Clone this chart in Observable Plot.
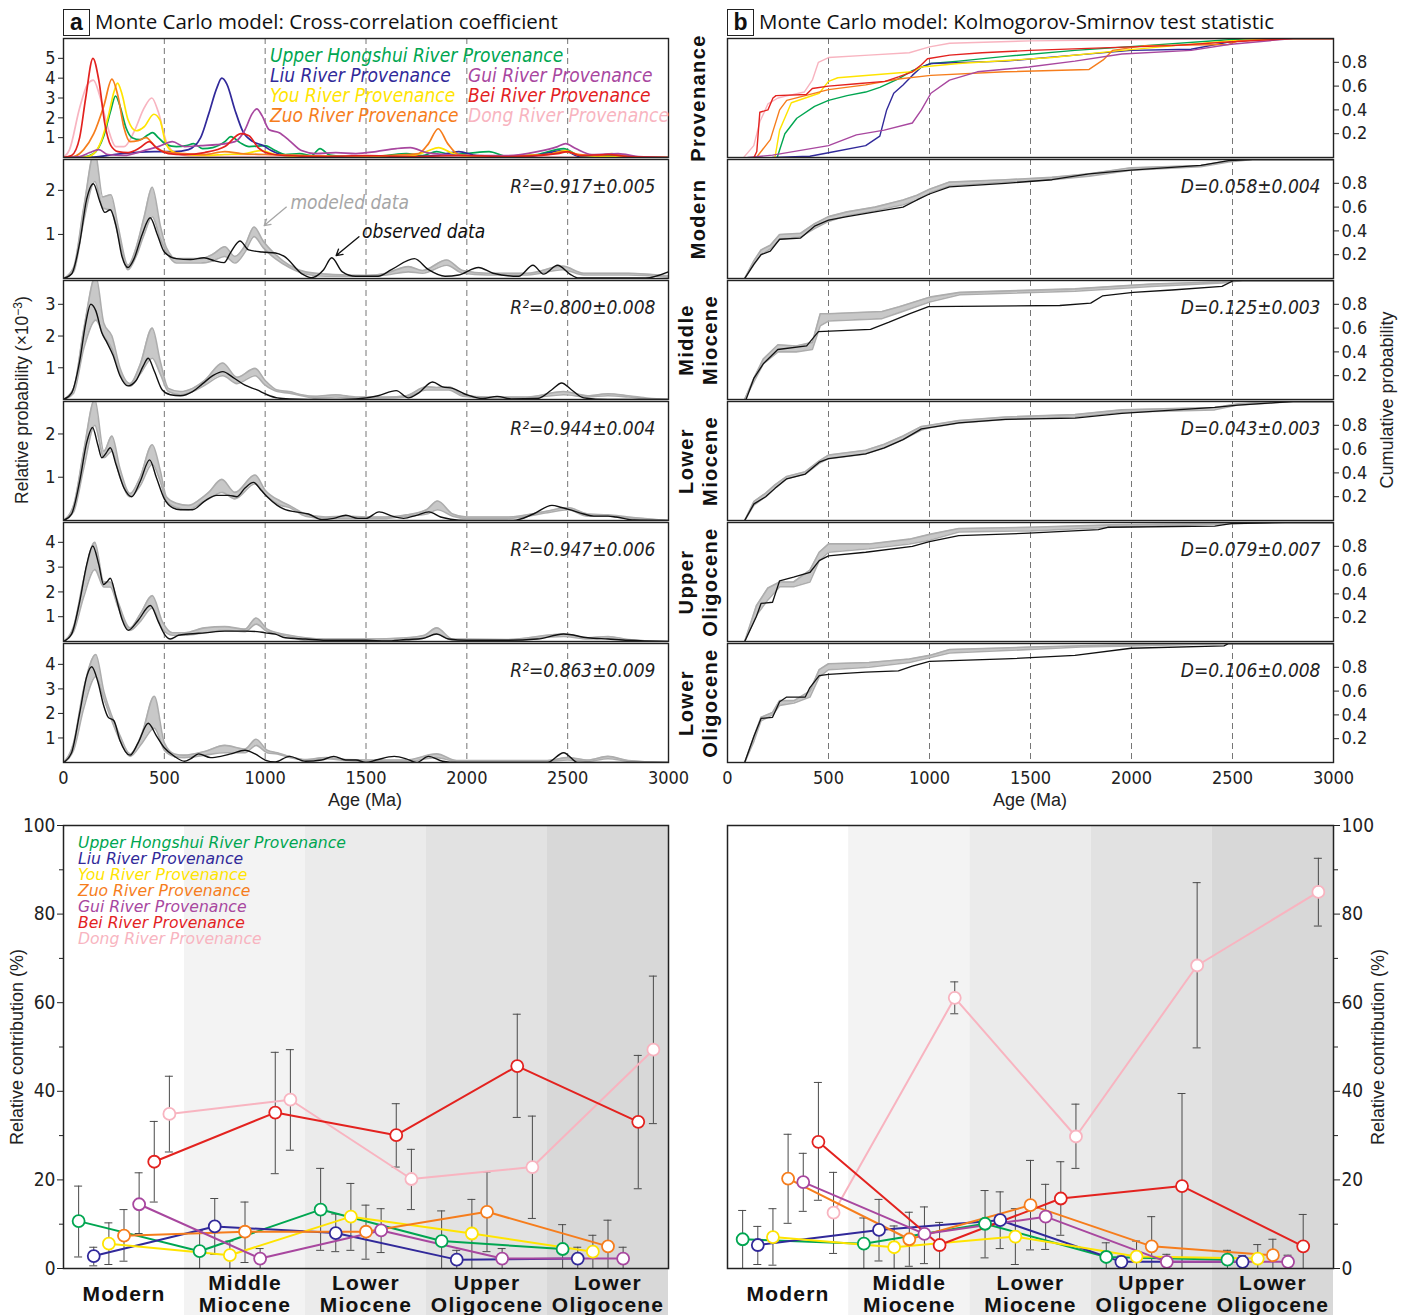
<!DOCTYPE html>
<html><head><meta charset="utf-8">
<script src="https://cdn.jsdelivr.net/npm/d3@7"></script>
<script src="https://cdn.jsdelivr.net/npm/@observablehq/plot@0.6"></script>
<style>
body{margin:0;background:#fff;}
#root{position:relative;width:1408px;height:1315px;overflow:hidden;background:#fff;}
#root svg{overflow:visible;}
.t{position:absolute;white-space:pre;line-height:1;}
</style></head>
<body><div id="root"></div>
<script>
// ---------------- DATA ----------------
const AGE_TICKS = [0, 500, 1000, 1500, 2000, 2500, 3000];
const DASH_AGES = [500, 1000, 1500, 2000, 2500];
const provNames = ["Upper Hongshui River Provenance","Liu River Provenance","You River Provenance","Zuo River Provenance","Gui River Provenance","Bei River Provenance","Dong River Provenance"];
const provColors = ["#00a651","#31299a","#ffe400","#f67d1c","#a8479f","#e3221f","#f8b4c0"];
const rowNames = ["Provenance","Modern","Middle\nMiocene","Lower\nMiocene","Upper\nOligocene","Lower\nOligocene"];
const r2Labels = ["R²=0.917±0.005","R²=0.800±0.008","R²=0.944±0.004","R²=0.947±0.006","R²=0.863±0.009"];
const dLabels = ["D=0.058±0.004","D=0.125±0.003","D=0.043±0.003","D=0.079±0.007","D=0.106±0.008"];
const kdeYMax = [6, 2.7, 3.75, 2.75, 4.8, 4.85];
const kdeYTicks = [[1,2,3,4,5],[1,2],[1,2,3],[1,2],[1,2,3,4],[1,2,3,4]];
const cdfYTicks = [0.2, 0.4, 0.6, 0.8];

// provenance KDEs [age, density x1e-3]
const kdeHongshui = [[0,0],[100,0.02],[150,0.2],[200,1.1],[235,2.4],[258,3.1],[280,2.6],[310,1.5],[340,1.0],[380,0.9],[420,1.15],[442,1.25],[470,1.0],[510,0.65],[560,0.55],[610,0.6],[645,0.7],[690,0.45],[740,0.5],[800,0.8],[830,1.05],[875,0.75],[920,0.55],[1000,0.6],[1050,0.35],[1100,0.15],[1170,0.2],[1230,0.1],[1272,0.45],[1320,0.12],[1400,0.05],[1500,0.05],[1600,0.1],[1700,0.2],[1780,0.1],[1850,0.3],[1920,0.15],[2000,0.2],[2110,0.3],[2200,0.05],[2350,0.15],[2480,0.45],[2560,0.1],[2700,0.12],[2850,0.03],[3000,0]];
const kdeLiu = [[0,0],[150,0.02],[250,0.15],[350,0.25],[450,0.3],[550,0.3],[620,0.4],[680,1.0],[720,2.2],[760,3.5],[785,4.0],[810,3.7],[850,2.4],[890,1.3],[940,0.8],[990,0.6],[1030,0.35],[1100,0.1],[1300,0.05],[1700,0.05],[1850,0.1],[1960,0.3],[2050,0.1],[2300,0.05],[2480,0.35],[2560,0.05],[3000,0]];
const kdeYou = [[0,0],[110,0.02],[150,0.2],[190,0.9],[225,2.2],[250,3.3],[268,3.75],[290,3.2],[320,1.9],[360,1.35],[400,1.55],[448,2.18],[478,1.9],[505,0.8],[540,0.3],[600,0.15],[700,0.1],[800,0.15],[900,0.2],[980,0.35],[1050,0.15],[1200,0.05],[1700,0.05],[1800,0.3],[1860,0.5],[1920,0.25],[2000,0.05],[2400,0.15],[2490,0.35],[2560,0.1],[2800,0.03],[3000,0]];
const kdeZuo = [[0,0],[50,0.05],[100,0.4],[150,1.2],[200,2.6],[240,3.95],[270,3.1],[300,1.5],[330,0.8],[370,0.85],[410,1.0],[450,0.6],[500,0.3],[600,0.2],[700,0.15],[800,0.3],[880,0.2],[1000,0.15],[1200,0.1],[1400,0.05],[1600,0.1],[1760,0.2],[1810,0.7],[1858,1.45],[1905,0.7],[1960,0.15],[2100,0.05],[2400,0.15],[2480,0.3],[2560,0.15],[2650,0.1],[2720,0.2],[2800,0.05],[3000,0]];
const kdeGui = [[0,0],[80,0.05],[130,0.25],[175,0.4],[220,0.15],[300,0.1],[400,0.35],[470,0.55],[540,0.8],[600,0.55],[680,0.6],[760,0.65],[850,0.8],[900,1.4],[935,2.2],[958,2.45],[985,2.1],[1020,1.4],[1070,1.25],[1120,0.85],[1180,0.35],[1250,0.2],[1350,0.25],[1450,0.2],[1550,0.3],[1650,0.45],[1720,0.5],[1800,0.25],[1900,0.15],[2000,0.1],[2200,0.1],[2350,0.3],[2450,0.55],[2490,0.7],[2540,0.45],[2620,0.15],[2750,0.2],[2850,0.05],[3000,0]];
const kdeBei = [[0,0],[40,0.1],[80,1.0],[110,3.0],[146,5.0],[175,3.9],[205,1.7],[235,0.6],[270,0.3],[320,0.25],[380,0.5],[425,0.8],[465,0.45],[520,0.2],[600,0.15],[700,0.25],[800,0.55],[880,1.2],[920,1.1],[965,0.5],[1020,0.2],[1100,0.1],[1300,0.05],[1500,0.1],[1700,0.05],[2000,0.1],[2200,0.05],[2450,0.2],[2500,0.3],[2560,0.1],[2700,0.15],[2800,0.05],[3000,0]];
const kdeDong = [[0,0],[30,0.4],[80,2.5],[120,3.7],[148,3.9],[180,3.1],[220,1.5],[260,0.55],[300,0.55],[350,1.3],[400,2.5],[438,3.0],[470,2.3],[510,0.8],[560,0.2],[650,0.05],[1000,0.05],[1500,0.05],[2000,0.05],[3000,0]];

// observed KDEs [age, density]
const kdeObsModern = [[0,0],[40,0.1],[80,0.8],[115,1.8],[148,2.15],[180,1.75],[205,1.5],[232,1.56],[260,1.2],[290,0.5],[320,0.25],[350,0.45],[390,1.0],[430,1.38],[465,1.0],[500,0.6],[560,0.45],[630,0.43],[697,0.47],[750,0.4],[796,0.36],[830,0.6],[875,0.85],[918,0.65],[985,0.6],[1051,0.58],[1095,0.5],[1184,0.1],[1228,0.02],[1290,0.2],[1330,0.47],[1383,0.15],[1449,0.05],[1560,0.05],[1626,0.2],[1740,0.45],[1810,0.2],[1892,0.05],[1960,0.08],[2058,0.25],[2130,0.12],[2257,0.05],[2328,0.3],[2380,0.1],[2450,0.3],[2511,0.1],[2555,0.01],[2887,0.01],[3000,0.15]];
const kdeObsMM = [[0,0],[40,0.2],[80,1.2],[110,2.4],[135,3.0],[160,2.8],[190,2.1],[215,1.8],[245,1.4],[280,0.75],[320,0.43],[360,0.6],[395,1.05],[420,1.3],[450,0.9],[490,0.3],[530,0.15],[580,0.12],[640,0.25],[690,0.5],[740,0.75],[790,0.88],[840,0.7],[900,0.45],[960,0.3],[1010,0.15],[1060,0.05],[1120,0.02],[1300,0],[1450,0.02],[1560,0.12],[1650,0.28],[1710,0.05],[1760,0.2],[1830,0.55],[1880,0.4],[1930,0.35],[2000,0.15],[2080,0.03],[2150,0.1],[2220,0.02],[2350,0.03],[2420,0.3],[2470,0.52],[2520,0.3],[2580,0.05],[2700,0],[3000,0]];
const kdeObsLM = [[0,0],[40,0.15],[80,0.9],[115,1.8],[144,2.15],[170,1.75],[190,1.45],[210,1.55],[232,1.68],[260,1.3],[300,0.75],[338,0.55],[380,0.9],[427,1.4],[460,1.0],[500,0.5],[540,0.3],[580,0.25],[640,0.25],[700,0.45],[760,0.58],[820,0.58],[860,0.55],[900,0.75],[942,0.88],[980,0.7],[1010,0.55],[1060,0.35],[1100,0.25],[1150,0.2],[1215,0.15],[1281,0.02],[1340,0.05],[1400,0.12],[1460,0.05],[1500,0.05],[1565,0.2],[1630,0.1],[1686,0.05],[1750,0.12],[1812,0.2],[1870,0.08],[1920,0.03],[2000,0],[2230,0],[2330,0.15],[2422,0.35],[2470,0.3],[2510,0.25],[2580,0.15],[2630,0.1],[2700,0.1],[2740,0.08],[2830,0.01],[3000,0]];
const kdeObsUO = [[0,0],[40,0.3],[80,1.6],[115,3.1],[145,3.85],[175,3.1],[199,2.3],[215,2.4],[232,2.55],[260,1.8],[290,0.9],[321,0.45],[370,0.85],[431,1.45],[470,0.8],[500,0.3],[530,0.1],[570,0.25],[620,0.3],[700,0.35],[800,0.42],[900,0.42],[960,0.4],[1000,0.35],[1050,0.3],[1100,0.15],[1200,0.1],[1300,0.05],[1400,0.05],[1500,0.05],[1600,0.02],[1700,0.08],[1780,0.12],[1850,0.3],[1910,0.1],[2000,0.05],[2200,0.05],[2350,0.1],[2480,0.3],[2600,0.15],[2700,0.1],[2800,0.05],[3000,0]];
const kdeObsLO = [[0,0],[40,0.4],[80,2.0],[115,3.5],[140,3.9],[170,3.3],[200,2.3],[221,1.85],[250,1.7],[280,0.9],[330,0.3],[370,0.8],[420,1.6],[460,1.1],[500,0.6],[550,0.25],[600,0.05],[630,0.15],[670,0.35],[730,0.2],[780,0.25],[830,0.35],[900,0.5],[950,0.35],[1000,0.1],[1050,0.02],[1120,0.25],[1200,0.05],[1280,0.1],[1340,0.25],[1400,0.1],[1450,0.1],[1500,0],[1550,0.1],[1640,0.25],[1700,0.15],[1750,0],[1810,0.25],[1880,0.05],[1950,0],[2400,0],[2480,0.4],[2550,0],[3000,0]];

// modeled KDE envelopes [age, low, high]
const kdeModModern = [[0,0,0],[50,0.15,0.25],[100,1.3,1.6],[155,2.2,2.9],[195,1.6,1.85],[235,1.55,1.9],[270,1.0,1.2],[320,0.2,0.3],[360,0.5,0.7],[400,1.0,1.4],[440,1.4,2.07],[480,0.9,1.2],[510,0.6,0.7],[560,0.35,0.45],[620,0.35,0.45],[680,0.35,0.45],[740,0.4,0.55],[800,0.5,0.72],[850,0.35,0.5],[900,0.6,0.75],[945,0.95,1.17],[990,0.7,0.85],[1050,0.45,0.55],[1120,0.25,0.3],[1200,0.1,0.15],[1300,0.05,0.1],[1400,0.05,0.08],[1500,0.05,0.07],[1600,0.08,0.12],[1710,0.15,0.27],[1780,0.12,0.18],[1900,0.3,0.42],[1980,0.12,0.18],[2100,0.08,0.12],[2300,0.08,0.12],[2475,0.2,0.28],[2580,0.08,0.12],[2700,0.08,0.12],[2800,0.08,0.12],[3000,0.03,0.06]];
const kdeModMM = [[0,0,0],[50,0.2,0.35],[100,1.6,2.2],[160,2.5,3.9],[200,2.0,2.4],[240,1.6,2.0],[280,0.8,1.0],[330,0.42,0.5],[380,0.8,1.1],[440,1.3,2.25],[480,0.8,1.2],[520,0.25,0.35],[580,0.15,0.25],[640,0.25,0.35],[700,0.45,0.6],[790,0.75,1.15],[860,0.5,0.7],[950,0.75,0.98],[1000,0.45,0.6],[1060,0.25,0.3],[1120,0.2,0.25],[1180,0.12,0.15],[1250,0.05,0.1],[1350,0.08,0.15],[1450,0.05,0.08],[1600,0.05,0.08],[1700,0.08,0.12],[1800,0.3,0.4],[1850,0.3,0.38],[1910,0.3,0.4],[1980,0.1,0.15],[2100,0.05,0.08],[2300,0.05,0.08],[2480,0.15,0.25],[2600,0.08,0.12],[2700,0.12,0.18],[2800,0.08,0.12],[2900,0.02,0.04],[3000,0,0]];
const kdeModLM = [[0,0,0],[50,0.2,0.35],[100,1.2,1.6],[155,2.2,2.8],[200,1.45,1.6],[240,1.6,1.95],[280,1.0,1.2],[330,0.55,0.62],[380,0.8,1.0],[440,1.3,1.75],[480,0.9,1.15],[510,0.45,0.55],[560,0.3,0.4],[620,0.25,0.35],[680,0.4,0.5],[720,0.5,0.65],[785,0.65,0.95],[850,0.5,0.65],[950,0.85,1.05],[1000,0.6,0.7],[1075,0.35,0.45],[1120,0.3,0.35],[1200,0.1,0.15],[1300,0.05,0.08],[1400,0.05,0.1],[1500,0.05,0.08],[1600,0.05,0.08],[1700,0.1,0.13],[1800,0.15,0.25],[1855,0.25,0.45],[1930,0.1,0.15],[2000,0.05,0.08],[2200,0.05,0.08],[2400,0.18,0.22],[2500,0.25,0.3],[2600,0.1,0.15],[2700,0.1,0.13],[2800,0.05,0.08],[3000,0,0]];
const kdeModUO = [[0,0,0],[50,0.4,0.6],[100,1.8,2.5],[155,2.9,4.0],[200,2.2,2.4],[232,2.2,2.4],[270,1.4,1.6],[330,0.45,0.55],[380,0.8,1.1],[440,1.35,1.85],[490,0.5,0.8],[540,0.25,0.35],[600,0.25,0.35],[700,0.35,0.55],[800,0.45,0.6],[900,0.4,0.5],[955,0.7,0.95],[1010,0.4,0.5],[1060,0.3,0.35],[1120,0.2,0.25],[1200,0.05,0.15],[1300,0.05,0.1],[1500,0.05,0.1],[1700,0.05,0.15],[1790,0.15,0.25],[1850,0.3,0.55],[1930,0.05,0.1],[2200,0.05,0.08],[2480,0.2,0.3],[2600,0.1,0.15],[2700,0.12,0.2],[2800,0.05,0.08],[3000,0,0]];
const kdeModLO = [[0,0,0],[50,0.5,0.8],[100,2.2,3.0],[160,3.5,4.4],[200,2.6,2.9],[235,1.8,2.0],[280,0.9,1.1],[330,0.25,0.35],[390,0.8,1.2],[450,1.4,2.7],[500,0.5,0.8],[550,0.25,0.35],[600,0.2,0.3],[700,0.3,0.45],[800,0.4,0.7],[900,0.4,0.55],[955,0.7,0.95],[1010,0.4,0.5],[1060,0.35,0.4],[1120,0.2,0.25],[1200,0.1,0.12],[1300,0.15,0.2],[1400,0.08,0.12],[1500,0.05,0.1],[1700,0.05,0.1],[1850,0.2,0.35],[1950,0.05,0.08],[2100,0.05,0.08],[2400,0.05,0.08],[2500,0.1,0.2],[2600,0.05,0.1],[2700,0.15,0.25],[2800,0.05,0.08],[3000,0,0]];

// provenance cumulative distributions [age, cumulative probability]
const cdfHongshui = [[246,0],[284,0.2],[343,0.33],[431,0.43],[500,0.48],[592,0.52],[684,0.55],[754,0.59],[846,0.66],[915,0.73],[1007,0.79],[1145,0.81],[1375,0.85],[1720,0.9],[2066,0.94],[2481,0.99],[2600,1],[3000,1]];
const cdfLiu = [[223,0],[408,0.01],[500,0.04],[684,0.1],[754,0.18],[788,0.4],[823,0.54],[869,0.61],[915,0.69],[960,0.76],[1007,0.79],[1375,0.81],[1720,0.86],[1998,0.9],[2295,0.91],[2481,0.97],[2700,1],[3000,1]];
const cdfYou = [[235,0],[258,0.23],[316,0.46],[454,0.54],[500,0.64],[546,0.67],[915,0.72],[960,0.76],[1145,0.79],[1606,0.84],[1952,0.9],[2481,0.98],[2800,1],[3000,1]];
const cdfZuo = [[143,0],[212,0.15],[258,0.4],[293,0.48],[385,0.52],[500,0.57],[684,0.61],[846,0.66],[1007,0.69],[1375,0.72],[1790,0.74],[1860,0.82],[1906,0.9],[2066,0.94],[2481,0.95],[2527,0.98],[2800,1],[3000,1]];
const cdfGui = [[100,0],[223,0.02],[500,0.1],[638,0.19],[776,0.23],[915,0.29],[960,0.4],[1007,0.54],[1099,0.65],[1237,0.72],[1491,0.76],[1720,0.81],[1952,0.87],[2295,0.9],[2481,0.95],[2800,1],[3000,1]];
const cdfBei = [[131,0],[145,0.05],[160,0.38],[200,0.4],[225,0.5],[240,0.52],[390,0.53],[420,0.58],[500,0.6],[640,0.62],[780,0.64],[850,0.68],[915,0.72],[960,0.78],[990,0.83],[1100,0.86],[1260,0.88],[1500,0.9],[2000,0.93],[2200,0.94],[2480,0.97],[2800,1],[3000,1]];
const cdfDong = [[80,0],[130,0.1],[160,0.3],[200,0.45],[250,0.5],[300,0.52],[380,0.55],[420,0.65],[450,0.8],[500,0.84],[700,0.86],[900,0.88],[1000,0.93],[1100,0.96],[1500,0.98],[2000,0.99],[2500,1],[3000,1]];

// observed cumulative distributions
const cdfObsModern = [[85,0],[131,0.12],[166,0.2],[212,0.23],[258,0.33],[362,0.34],[431,0.44],[500,0.49],[592,0.52],[730,0.56],[869,0.6],[938,0.66],[1000,0.71],[1099,0.77],[1375,0.8],[1606,0.83],[1790,0.88],[1998,0.91],[2343,0.95],[2481,0.99],[2600,1],[3000,1]];
const cdfObsMM = [[92,0],[131,0.18],[177,0.3],[249,0.42],[392,0.45],[450,0.57],[708,0.59],[800,0.65],[900,0.72],[995,0.78],[1645,0.79],[1798,0.81],[1856,0.87],[2008,0.9],[2200,0.92],[2448,0.95],[2506,1],[3000,1]];
const cdfObsLM = [[85,0],[131,0.14],[189,0.2],[235,0.27],[293,0.35],[385,0.39],[454,0.49],[500,0.52],[684,0.56],[776,0.61],[869,0.68],[960,0.77],[1000,0.78],[1145,0.82],[1375,0.85],[1720,0.86],[1952,0.9],[2412,0.95],[2527,0.97],[2712,0.99],[2800,1],[3000,1]];
const cdfObsUO = [[85,0],[143,0.21],[166,0.32],[223,0.33],[258,0.51],[327,0.54],[408,0.58],[454,0.68],[500,0.72],[684,0.75],[915,0.8],[1000,0.84],[1145,0.89],[1491,0.91],[1836,0.94],[1882,0.96],[2412,0.97],[2493,0.99],[2760,1],[3000,1]];
const cdfObsLO = [[85,0],[131,0.22],[166,0.37],[223,0.38],[258,0.51],[293,0.55],[385,0.55],[408,0.63],[454,0.73],[500,0.74],[684,0.76],[846,0.77],[915,0.81],[1000,0.85],[1375,0.87],[1720,0.9],[1998,0.96],[2458,0.98],[2481,1],[3000,1]];

// modeled cumulative envelopes [age, low, high]
const cdfModModern = [[85,0,0],[131,0.12,0.15],[166,0.2,0.24],[212,0.25,0.28],[258,0.33,0.37],[362,0.35,0.38],[431,0.42,0.46],[500,0.48,0.52],[592,0.53,0.56],[730,0.57,0.6],[869,0.62,0.66],[938,0.66,0.7],[1000,0.72,0.75],[1099,0.78,0.81],[1375,0.81,0.83],[1606,0.83,0.85],[1790,0.86,0.88],[1998,0.91,0.93],[2343,0.94,0.95],[2481,0.98,0.99],[2600,1,1],[3000,1,1]];
const cdfModMM = [[85,0,0],[131,0.15,0.18],[177,0.3,0.34],[250,0.4,0.46],[340,0.4,0.45],[420,0.42,0.48],[459,0.62,0.72],[500,0.66,0.72],[765,0.68,0.74],[850,0.73,0.78],[1000,0.82,0.86],[1150,0.88,0.9],[1720,0.91,0.93],[2100,0.95,0.97],[2450,0.98,0.99],[2550,1,1],[3000,1,1]];
const cdfModLM = [[85,0,0],[131,0.13,0.16],[189,0.2,0.23],[235,0.27,0.3],[293,0.35,0.37],[385,0.39,0.41],[454,0.48,0.5],[500,0.52,0.55],[684,0.56,0.59],[776,0.61,0.64],[869,0.68,0.71],[960,0.76,0.79],[1000,0.78,0.8],[1145,0.82,0.84],[1375,0.85,0.87],[1720,0.87,0.89],[1952,0.91,0.93],[2412,0.93,0.95],[2527,0.97,0.98],[2712,0.99,1],[2800,1,1],[3000,1,1]];
const cdfModUO = [[85,0,0],[143,0.22,0.3],[200,0.35,0.45],[258,0.46,0.5],[327,0.46,0.5],[408,0.5,0.6],[454,0.68,0.75],[500,0.75,0.82],[700,0.78,0.82],[900,0.82,0.86],[1000,0.85,0.9],[1145,0.92,0.95],[1500,0.93,0.96],[1900,0.96,0.98],[2300,0.98,0.99],[2500,0.99,1],[2700,1,1],[3000,1,1]];
const cdfModLO = [[85,0,0],[131,0.18,0.22],[166,0.35,0.38],[223,0.4,0.42],[258,0.48,0.52],[330,0.5,0.52],[408,0.55,0.6],[454,0.72,0.78],[500,0.78,0.83],[700,0.8,0.84],[900,0.84,0.87],[1000,0.88,0.9],[1100,0.92,0.95],[1500,0.95,0.97],[1750,0.97,0.98],[2000,0.98,0.99],[2500,1,1],[3000,1,1]];

// annotations in the Modern KDE row
const annotTexts = [{text:"modeled data", age:1125, val:1.72, color:"#a6a6a6"},{text:"observed data", age:1480, val:1.06, color:"#111"}];
const annotArrows = [{a1:1105, v1:1.62, a2:995, v2:1.2, color:"#a6a6a6"},{a1:1465, v1:0.95, a2:1352, v2:0.52, color:"#111"}];

// stratigraphic units (bottom panels)
const unitNames = ["Modern","Middle\nMiocene","Lower\nMiocene","Upper\nOligocene","Lower\nOligocene"];
const bandFill = ["#ffffff","#f3f3f3","#ebebeb","#e2e2e2","#d8d8d8"];
// cross-correlation model contributions [mean, low, high] (%)
const ccHongshui = [[10.7,2.6,18.6],[3.9,0,8.5],[13.3,4.1,22.6],[6.2,0,13.0],[4.4,0,9.9]];
const ccLiu = [[2.8,0.6,4.8],[9.5,3.2,15.8],[8.0,3.8,12.3],[2.0,0,4.1],[2.25,0,4.8]];
const ccYou = [[5.6,0.9,10.3],[3.0,0,6.2],[11.7,4.1,19.2],[7.9,0,15.6],[3.8,0,7.5]];
const ccZuo = [[7.4,1.65,13.3],[8.3,1.35,15.0],[8.3,2.1,14.3],[12.8,3.8,21.8],[5.0,0,10.9]];
const ccGui = [[14.5,7.9,21.6],[2.25,0,4.5],[8.6,3.6,13.5],[2.25,0,4.5],[2.25,0,4.8]];
const ccBei = [[24.1,15.0,33.2],[35.2,21.4,48.8],[30.1,22.9,37.2],[45.7,34.1,57.4],[33.1,18.0,48.1]];
const ccDong = [[34.9,26.3,43.4],[38.1,26.7,49.4],[20.2,13.3,26.9],[22.9,11.3,34.4],[49.4,32.7,66.0]];
// K-S model contributions [mean, low, high] (%)
const ksHongshui = [[6.6,0,13.1],[5.6,0,11.4],[10.1,2.4,17.6],[2.6,0,5.8],[2.0,0,4.1]];
const ksLiu = [[5.3,0.9,9.5],[8.7,1.7,15.6],[10.9,4.5,17.3],[1.5,0,2.8],[1.5,0,2.9]];
const ksYou = [[7.1,0.75,13.5],[4.8,0,9.6],[7.2,0.9,13.5],[2.7,0,6.2],[2.25,0,5.4]];
const ksZuo = [[20.3,10.2,30.3],[6.6,0.5,12.7],[14.3,4.2,24.4],[5.0,0,11.7],[3.0,0,6.6]];
const ksGui = [[19.5,12.9,26.0],[7.8,1.1,13.9],[11.7,4.3,19.0],[1.5,0,3.2],[1.5,0,3.0]];
const ksBei = [[28.6,15.4,42.0],[5.3,0,10.4],[15.8,7.5,24.1],[18.6,0,39.5],[5.0,0,12.2]];
const ksDong = [[12.6,3.4,21.7],[61.1,57.5,64.7],[29.8,22.6,37.1],[68.4,49.8,87.1],[85.0,77.3,92.6]];

// ---------------- DRAWING ----------------
const NARROW = '"Liberation Sans Narrow","Arial Narrow","DejaVu Sans Condensed",sans-serif';
const SANS = '"Liberation Sans",Arial,sans-serif';
const root = document.getElementById("root");
function put(el, left, top){ el.style.position="absolute"; el.style.left=left+"px"; el.style.top=top+"px"; root.appendChild(el); }
function txt(s, x, y, css){ const d=document.createElement("div"); d.className="t"; d.innerHTML=s; d.style.left=x+"px"; d.style.top=y+"px"; d.style.cssText += css; root.appendChild(d); return d; }

const kdeProv = [kdeHongshui,kdeLiu,kdeYou,kdeZuo,kdeGui,kdeBei,kdeDong];
const kdeObs = [kdeObsModern,kdeObsMM,kdeObsLM,kdeObsUO,kdeObsLO];
const kdeMod = [kdeModModern,kdeModMM,kdeModLM,kdeModUO,kdeModLO];
const cdfProv = [cdfHongshui,cdfLiu,cdfYou,cdfZuo,cdfGui,cdfBei,cdfDong];
const cdfObs = [cdfObsModern,cdfObsMM,cdfObsLM,cdfObsUO,cdfObsLO];
const cdfMod = [cdfModModern,cdfModMM,cdfModLM,cdfModUO,cdfModLO];
const rowTops = [37,158,279,400,521,642];
const ROWH = 121;
const drawOrder = [6,0,1,2,3,4,5];

function envelopeMarks(mod, curve){
  return [
    Plot.areaY(mod, {x:d=>d[0], y1:d=>d[1], y2:d=>d[2], fill:"#c8c8c8", curve, clip:true}),
    Plot.line(mod, {x:d=>d[0], y:d=>d[1], stroke:"#adadad", strokeWidth:1.6, curve, clip:true}),
    Plot.line(mod, {x:d=>d[0], y:d=>d[2], stroke:"#adadad", strokeWidth:1.6, curve, clip:true})
  ];
}

function kdeRow(i){
  const last = i===5;
  const marks = [Plot.ruleX(DASH_AGES, {stroke:"#666", strokeWidth:0.9, strokeDasharray:"6,4"})];
  if(i===0){
    for(const k of drawOrder) marks.push(Plot.line(kdeProv[k], {x:d=>d[0], y:d=>d[1], stroke:provColors[k], strokeWidth:1.7, curve:"monotone-x", clip:true}));
  } else {
    marks.push(...envelopeMarks(kdeMod[i-1], "monotone-x"));
    marks.push(Plot.line(kdeObs[i-1], {x:d=>d[0], y:d=>d[1], stroke:"#111", strokeWidth:1.4, curve:"monotone-x", clip:true}));
    marks.push(Plot.text([r2Labels[i-1]], {frameAnchor:"top-right", dx:-13, dy:20, text:d=>d, fontStyle:"italic", fontSize:19, fill:"#222"}));
  }
  if(i===1){
    marks.push(Plot.arrow(annotArrows, {x1:"a1", y1:"v1", x2:"a2", y2:"v2", stroke:d=>d.color, strokeWidth:1.3, headLength:8}));
    marks.push(Plot.text(annotTexts, {x:"age", y:"val", text:"text", fill:d=>d.color, textAnchor:"start", fontStyle:"italic", fontSize:19}));
  }
  marks.push(Plot.frame({stroke:"#222", strokeWidth:1.4}));
  return Plot.plot({
    width:670, height:ROWH+(last?48:0), marginLeft:63, marginRight:2, marginTop:1, marginBottom:last?49:1,
    style:{fontFamily:NARROW, fontSize:"18px", background:"transparent", color:"#222"},
    x: last ? {domain:[0,3000], ticks:AGE_TICKS, tickFormat:d=>String(d), tickSize:0, tickPadding:9, label:null}
            : {domain:[0,3000], axis:null},
    y: {domain:[0,kdeYMax[i]], ticks:kdeYTicks[i], tickFormat:d=>String(d), tickSize:5, tickPadding:3, label:null},
    color: {type:"identity"},
    marks
  });
}

function cdfRow(i){
  const last = i===5;
  const marks = [Plot.ruleX(DASH_AGES, {stroke:"#666", strokeWidth:0.9, strokeDasharray:"6,4"})];
  if(i===0){
    for(const k of drawOrder) marks.push(Plot.line(cdfProv[k], {x:d=>d[0], y:d=>d[1], stroke:provColors[k], strokeWidth:1.4, clip:true}));
  } else {
    marks.push(...envelopeMarks(cdfMod[i-1], "linear"));
    marks.push(Plot.line(cdfObs[i-1], {x:d=>d[0], y:d=>d[1], stroke:"#111", strokeWidth:1.3, clip:true}));
    marks.push(Plot.text([dLabels[i-1]], {frameAnchor:"top-right", dx:-13, dy:20, text:d=>d, fontStyle:"italic", fontSize:19, fill:"#222"}));
  }
  marks.push(Plot.frame({stroke:"#222", strokeWidth:1.4}));
  return Plot.plot({
    width:708, height:ROWH+(last?48:0), marginLeft:27, marginRight:75, marginTop:1, marginBottom:last?49:1,
    style:{fontFamily:NARROW, fontSize:"18px", background:"transparent", color:"#222"},
    x: last ? {domain:[0,3000], ticks:AGE_TICKS, tickFormat:d=>String(d), tickSize:0, tickPadding:9, label:null}
            : {domain:[0,3000], axis:null},
    y: {domain:[0,1], axis:"right", ticks:cdfYTicks, tickFormat:d3.format(".1f"), tickSize:5, tickPadding:3, label:null},
    color: {type:"identity"},
    marks
  });
}

for(let i=0;i<6;i++){
  put(kdeRow(i), 0, rowTops[i]);
  put(cdfRow(i), 700, rowTops[i]);
}

// contribution panels
function contribPlot(series, rightAxis){
  const rows = [];
  series.forEach((s,k)=>s.forEach((v,u)=>rows.push({prov:k, unit:u, x:u+(k+1)/8, m:v[0], lo:v[1], hi:v[2]})));
  const marks = unitNames.map((u,i)=>Plot.rect([u], {x1:()=>i, x2:()=>i+1, y1:()=>-10.7, y2:()=>100, fill:bandFill[i]}));
  marks.push(Plot.ruleX(rows, {x:"x", y1:"lo", y2:"hi", stroke:"#4a4a4a", strokeWidth:1}));
  marks.push(Plot.ruleY(rows, {y:"hi", x1:d=>d.x-0.033, x2:d=>d.x+0.033, stroke:"#4a4a4a", strokeWidth:1}));
  marks.push(Plot.ruleY(rows.filter(d=>d.lo>0.2), {y:"lo", x1:d=>d.x-0.033, x2:d=>d.x+0.033, stroke:"#4a4a4a", strokeWidth:1}));
  for(const k of drawOrder){
    marks.push(Plot.line(rows.filter(d=>d.prov===k), {x:"x", y:"m", stroke:provColors[k], strokeWidth:2}));
  }
  for(const k of drawOrder){
    marks.push(Plot.dot(rows.filter(d=>d.prov===k), {x:"x", y:"m", r:6, fill:"white", stroke:provColors[k], strokeWidth:1.8}));
  }
  marks.push(Plot.frame({stroke:"#222", strokeWidth:1.5}));
  const anchor = rightAxis ? "right" : "left";
  marks.push(Plot.axisY({anchor, ticks:[0,20,40,60,80,100], tickSize:6, tickPadding:2, tickFormat:d=>String(d), label:null}));
  marks.push(Plot.axisY({anchor, ticks:[10,30,50,70,90], tickSize:4, tickFormat:()=>"", label:null}));
  marks.push(Plot.text(unitNames, {x:(d,i)=>i+0.5, y:()=>-5.7, text:d=>d, fontWeight:"bold", fontSize:21, lineHeight:1.05, fontFamily:SANS, fill:"#111"}));
  return Plot.plot({
    width: rightAxis?708:670, height:505,
    marginLeft: rightAxis?27:63, marginRight: rightAxis?75:2, marginTop:15, marginBottom:47,
    style:{fontFamily:NARROW, fontSize:"19px", background:"transparent", color:"#222"},
    x:{domain:[0,5], axis:null},
    y:{domain:[0,100], label:null},
    marks
  });
}
const ccSeries = [ccHongshui,ccLiu,ccYou,ccZuo,ccGui,ccBei,ccDong];
const ksSeries = [ksHongshui,ksLiu,ksYou,ksZuo,ksGui,ksBei,ksDong];
const cc = contribPlot(ccSeries, false);
const ks = contribPlot(ksSeries, true);
for(const svg of [cc, ks]) svg.querySelectorAll('g[aria-label="text"] text').forEach(t=>t.style.letterSpacing="1.2px");
put(cc, 0, 810);
put(ks, 700, 810);

// ---------- text: titles, labels, legends ----------
const boxCss = "width:25px;height:25px;border:1.5px solid #222;font:bold 23px "+SANS+";text-align:center;line-height:24px;color:#111;";
txt("a", 63, 9, boxCss);
txt("b", 727, 9, boxCss);
const titleCss = 'font-family:"Open Sans",sans-serif;font-size:20.5px;color:#111;';
txt("Monte Carlo model: Cross-correlation coefficient", 95, 11, titleCss);
txt("Monte Carlo model: Kolmogorov-Smirnov test statistic", 759, 11, titleCss);

const rotCss = "transform:translate(-50%,-50%) rotate(-90deg);text-align:center;";
rowNames.forEach((n,i)=>{
  txt(n.replace("\n","<br>"), 698, rowTops[i]+ROWH/2, rotCss+"font:bold 20px "+SANS+";letter-spacing:1.4px;line-height:1.2;color:#111;");
});
txt("Relative probability (×10<sup style='font-size:12px'>−3</sup>)", 22, 400, rotCss+"font:17.5px "+SANS+";color:#222;");
txt("Cumulative probability", 1387, 400, rotCss+"font:18px "+SANS+";color:#222;");
txt("Age (Ma)", 365, 800, "transform:translate(-50%,-50%);font:18px "+SANS+";color:#222;");
txt("Age (Ma)", 1030, 800, "transform:translate(-50%,-50%);font:18px "+SANS+";color:#222;");
txt("Relative contribution (%)", 17, 1047, rotCss+"font:18px "+SANS+";color:#222;");
txt("Relative contribution (%)", 1378, 1047, rotCss+"font:18px "+SANS+";color:#222;");

// legends
const topLegendPos = [[270,55],[270,75],[270,95],[270,115],[468,75],[468,95],[468,115]];
provNames.forEach((n,k)=>txt(n, topLegendPos[k][0], topLegendPos[k][1],
  "transform:translateY(-50%);font:italic 19px "+NARROW+";color:"+provColors[k]+";"));
provNames.forEach((n,k)=>txt(n, 78, 843+k*16,
  "transform:translateY(-50%) scaleX(1.12);transform-origin:0 50%;font:italic 15.5px "+NARROW+";color:"+provColors[k]+";"));
</script></body></html>
